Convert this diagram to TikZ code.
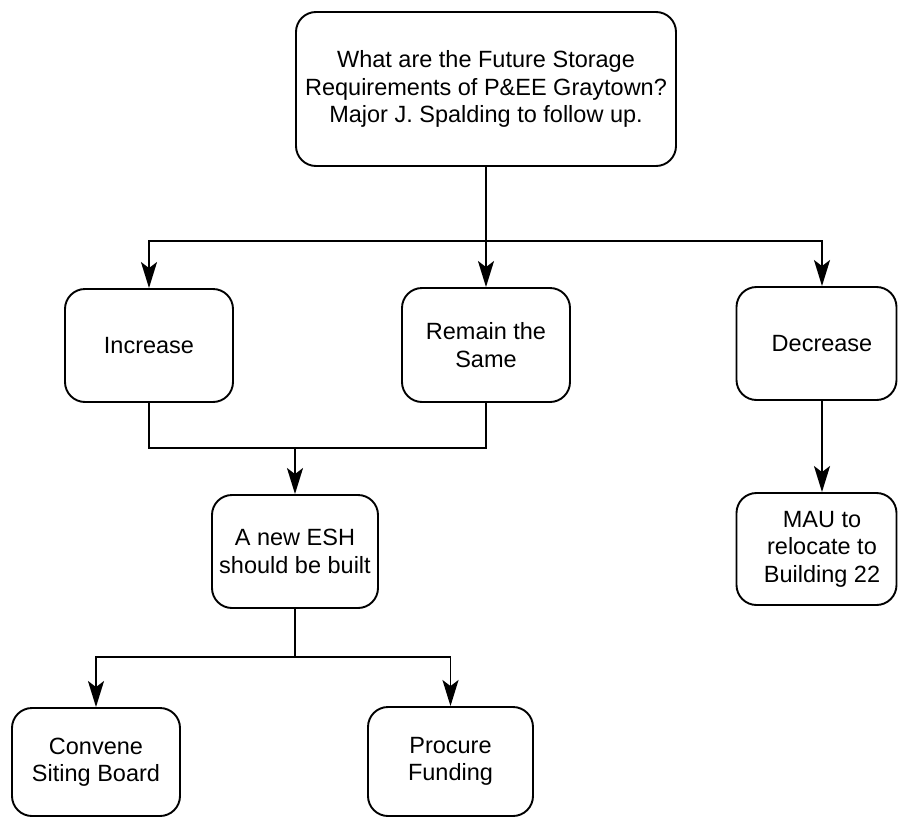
\documentclass[tikz,border=0pt]{standalone}
\usepackage{fontspec}
\setmainfont{Liberation Sans}
\usetikzlibrary{arrows.meta}
\begin{document}
\begin{tikzpicture}[x=1pt,y=-1pt,
  box/.style={draw, line width=1.9pt, rounded corners=20pt, align=center,
    font=\fontsize{23.5}{27.5}\selectfont, inner sep=0pt},
  lbl/.style={align=center, font=\fontsize{23.5}{27.5}\selectfont, inner sep=0pt},
  conn/.style={line width=1.9pt},
  arr/.style={conn, -{Stealth[length=26pt,width=16pt,inset=6pt]}}]
\useasboundingbox[fill=white] (0,0) rectangle (898,817);

\node[box, minimum width=380pt, minimum height=154pt] (top) at (486,89)
  {What are the Future Storage\\Requirements of P\&EE Graytown?\\Major J. Spalding to follow up.};
\node[box, minimum width=168pt, minimum height=113pt] (inc) at (149,345.5) {Increase};
\node[box, minimum width=168pt, minimum height=114pt] (rem) at (486,345) {Remain the\\Same};
\node[box, minimum width=160pt, minimum height=113pt] (dec) at (816.5,343.5) {};
\node[lbl] (dect) at (822,343.5) {Decrease};
\node[box, minimum width=166pt, minimum height=113pt] (esh) at (295,551.5) {A new ESH\\should be built};
\node[box, minimum width=160pt, minimum height=112pt] (mau) at (816.5,549) {};
\node[lbl] (maut) at (822,549) {MAU to\\relocate to\\Building 22};
\node[box, minimum width=168pt, minimum height=108pt] (conv) at (96,762) {Convene\\Siting Board};
\node[box, minimum width=165pt, minimum height=109pt] (proc) at (450.5,761.5) {Procure\\Funding};

\coordinate (j1) at (486,241);
\coordinate (j2) at (295,448);
\coordinate (j3) at (295,657);

\draw[conn] (top.south) -- (j1);
\draw[arr] (j1) -| (inc.north);
\draw[arr] (j1) -- (rem.north);
\draw[arr] (j1) -| ([xshift=5.5pt]dec.north);
\draw[arr] ([xshift=5.5pt]dec.south) -- ([xshift=5.5pt]mau.north);

\draw[conn] (inc.south) |- (j2) -| (rem.south);
\draw[arr] (j2) -- (esh.north);

\draw[conn] (esh.south) -- (j3);
\draw[arr] (j3) -| (conv.north);
\draw[arr] (j3) -| (proc.north);
\end{tikzpicture}
\end{document}
